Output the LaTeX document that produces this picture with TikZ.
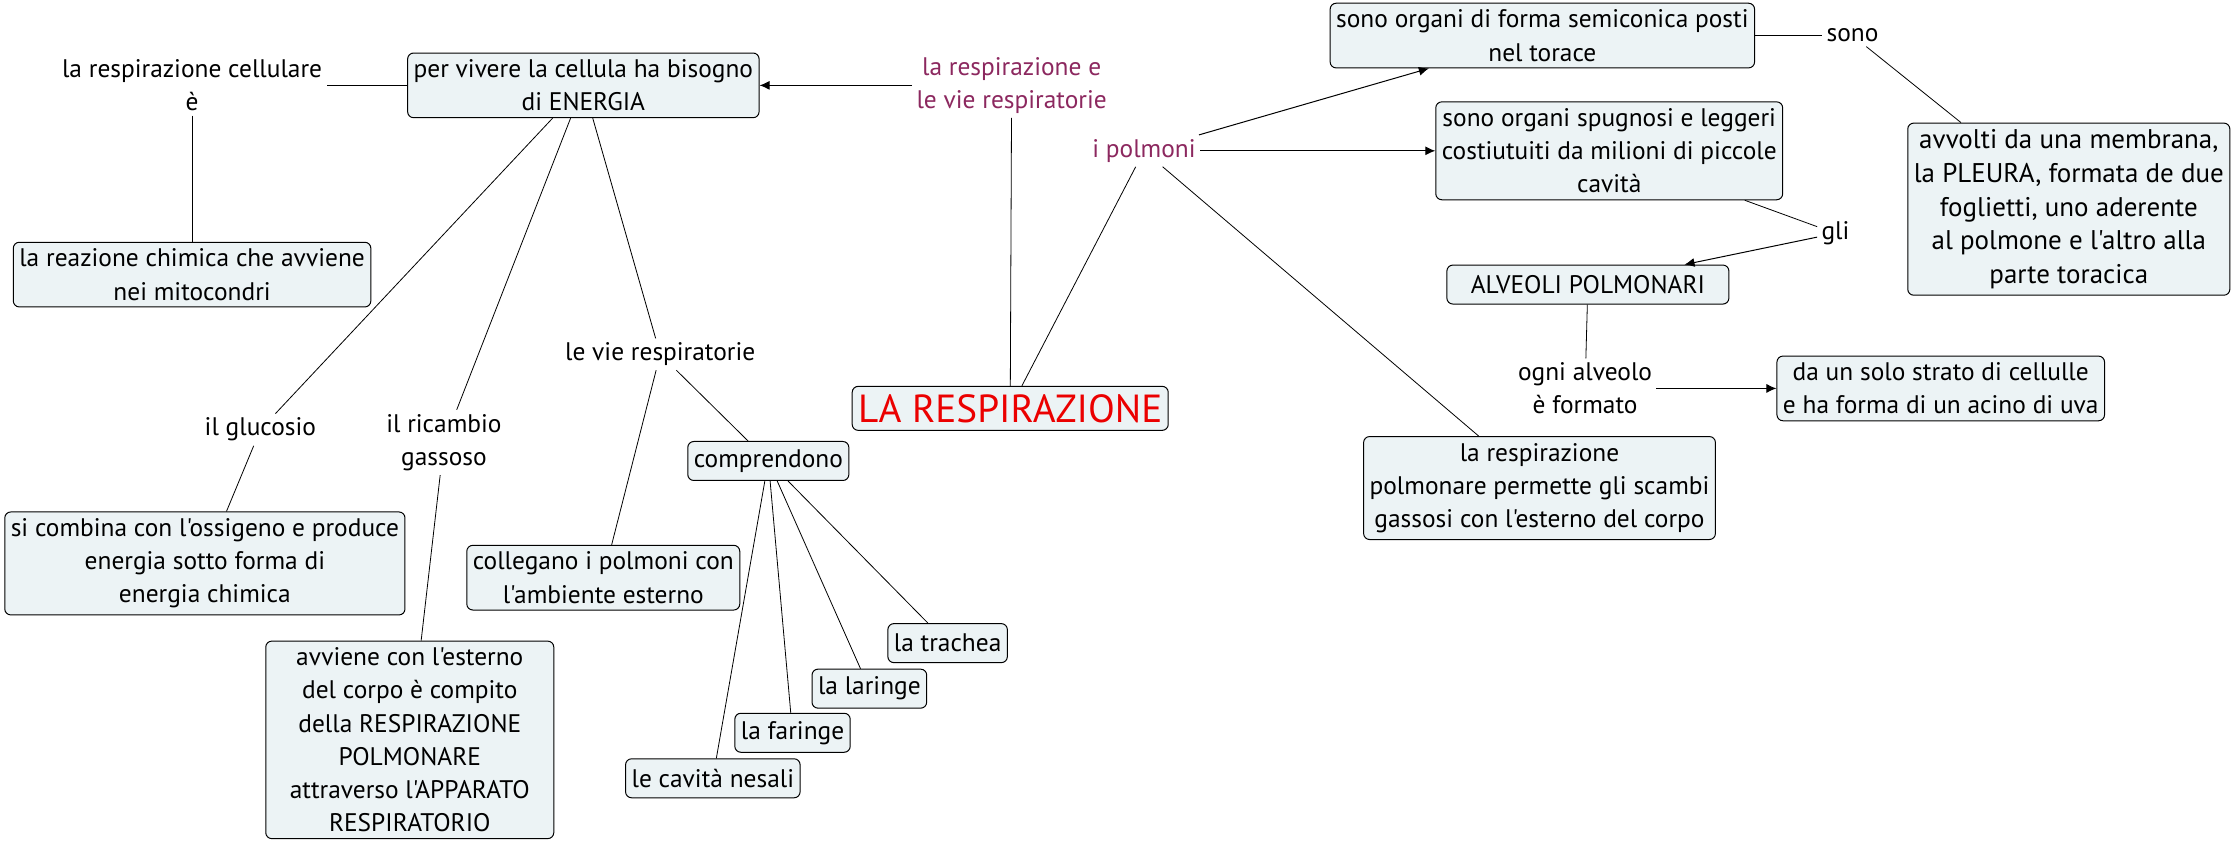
\documentclass[tikz,border=0pt]{standalone}
\usepackage{fontspec}
\setmainfont{PT Sans}[Ligatures=TeXOff]
\usetikzlibrary{arrows.meta,positioning}
\definecolor{boxfill}{RGB}{236,243,245}
\definecolor{linkpurple}{RGB}{140,40,95}
\definecolor{titlered}{RGB}{235,0,0}
\newcommand\mapfont{\fontsize{12.7}{16.6}\selectfont}

\begin{document}
\begin{tikzpicture}[
  x=0.7114pt, y=-0.7114pt,
  >={Latex[length=5pt,width=4.5pt]},
  box/.style={draw, rounded corners=3pt, fill=boxfill, align=center, font=\mapfont, inner xsep=3pt, inner ysep=3.3pt, line width=0.5pt},
  onebox/.style={box, minimum height=19.5pt},
  lbl/.style={align=center, font=\mapfont, inner sep=2pt},
  link/.style={lbl, text=linkpurple},
  arrow/.style={->, line width=0.5pt},
  line/.style={line width=0.4pt}
]
\useasboundingbox (0,0) rectangle (1568,592);

\node[box] (energia) at (410,60) {per vivere la cellula ha bisogno\\di ENERGIA};
\node[lbl] (cellulare) at (135,60) {la respirazione cellulare\\è};
\node[box] (reazione) at (135,193) {la reazione chimica che avviene\\nei mitocondri};
\node[lbl] (glucosio) at (183,302) {il glucosio};
\node[box] (combina) at (144,396) {si combina con l'ossigeno e produce\\energia sotto forma di\\energia chimica};
\node[lbl] (ricambio) at (312,311) {il ricambio\\gassoso};
\node[box, minimum width=144pt] (avviene) at (288,520) {avviene con l'esterno\\del corpo è compito\\della RESPIRAZIONE\\POLMONARE\\attraverso l'APPARATO\\RESPIRATORIO};
\node[lbl] (vieresp) at (464,249) {le vie respiratorie};
\node[box] (collegano) at (424,406) {collegano i polmoni con\\l'ambiente esterno};
\node[onebox] (comprendono) at (540,324) {comprendono};
\node[onebox] (trachea) at (666,452) {la trachea};
\node[onebox] (laringe) at (611,484) {la laringe};
\node[onebox] (faringe) at (557,515) {la faringe};
\node[onebox] (cavita) at (501,547) {le cavità nesali};

\node[link] (vie) at (711,60) {la respirazione e\\le vie respiratorie};
\node[onebox, minimum height=22pt, font=\fontsize{19.6}{22}\selectfont, text=titlered] (titolo) at (710,287) {LA RESPIRAZIONE};
\node[link] (polmoni) at (804,106) {i polmoni};

\node[box] (semiconica) at (1084,25) {sono organi di forma semiconica posti\\nel torace};
\node[lbl] (sono) at (1302,25) {sono};
\node[box, font=\fontsize{13.5}{16.8}\selectfont] (pleura) at (1454,147) {avvolti da una membrana,\\la PLEURA, formata de due\\foglietti, uno aderente\\al polmone e l'altro alla\\parte toracica};
\node[box] (spugnosi) at (1131,106) {sono organi spugnosi e leggeri\\costiutuiti da milioni di piccole\\cavità};
\node[lbl] (gli) at (1290,164) {gli};
\node[onebox, minimum width=141pt] (alveoli) at (1116,200) {ALVEOLI POLMONARI};
\node[lbl] (ogni) at (1114,273) {ogni alveolo\\è formato};
\node[box] (strato) at (1364,273) {da un solo strato di cellulle\\e ha forma di un acino di uva};
\node[box] (scambi) at (1082,343) {la respirazione\\polmonare permette gli scambi\\gassosi con l'esterno del corpo};

\draw[arrow] (vie) -- (energia);
\draw[line] (titolo) -- (vie);
\draw[line] (titolo) -- (polmoni);
\draw[line] (energia) -- (cellulare);
\draw[line] (cellulare) -- (reazione);
\draw[line] (energia) -- (glucosio);
\draw[line] (glucosio) -- (combina);
\draw[line] (energia) -- (ricambio);
\draw[line] (ricambio) -- (avviene);
\draw[line] (energia) -- (vieresp);
\draw[line] (vieresp) -- (collegano);
\draw[line] (vieresp) -- (comprendono);
\draw[line] (comprendono) -- (cavita);
\draw[line] (comprendono) -- (faringe);
\draw[line] (comprendono) -- (laringe);
\draw[line] (comprendono) -- (trachea);

\draw[arrow] (polmoni) -- (semiconica);
\draw[arrow] (polmoni) -- (spugnosi);
\draw[line] (polmoni) -- (scambi);
\draw[line] (semiconica) -- (sono);
\draw[line] (sono) -- (pleura);
\draw[line] (spugnosi) -- (gli);
\draw[arrow] (gli) -- (alveoli);
\draw[line] (alveoli) -- (ogni);
\draw[arrow] (ogni) -- (strato);
\end{tikzpicture}
\end{document}
